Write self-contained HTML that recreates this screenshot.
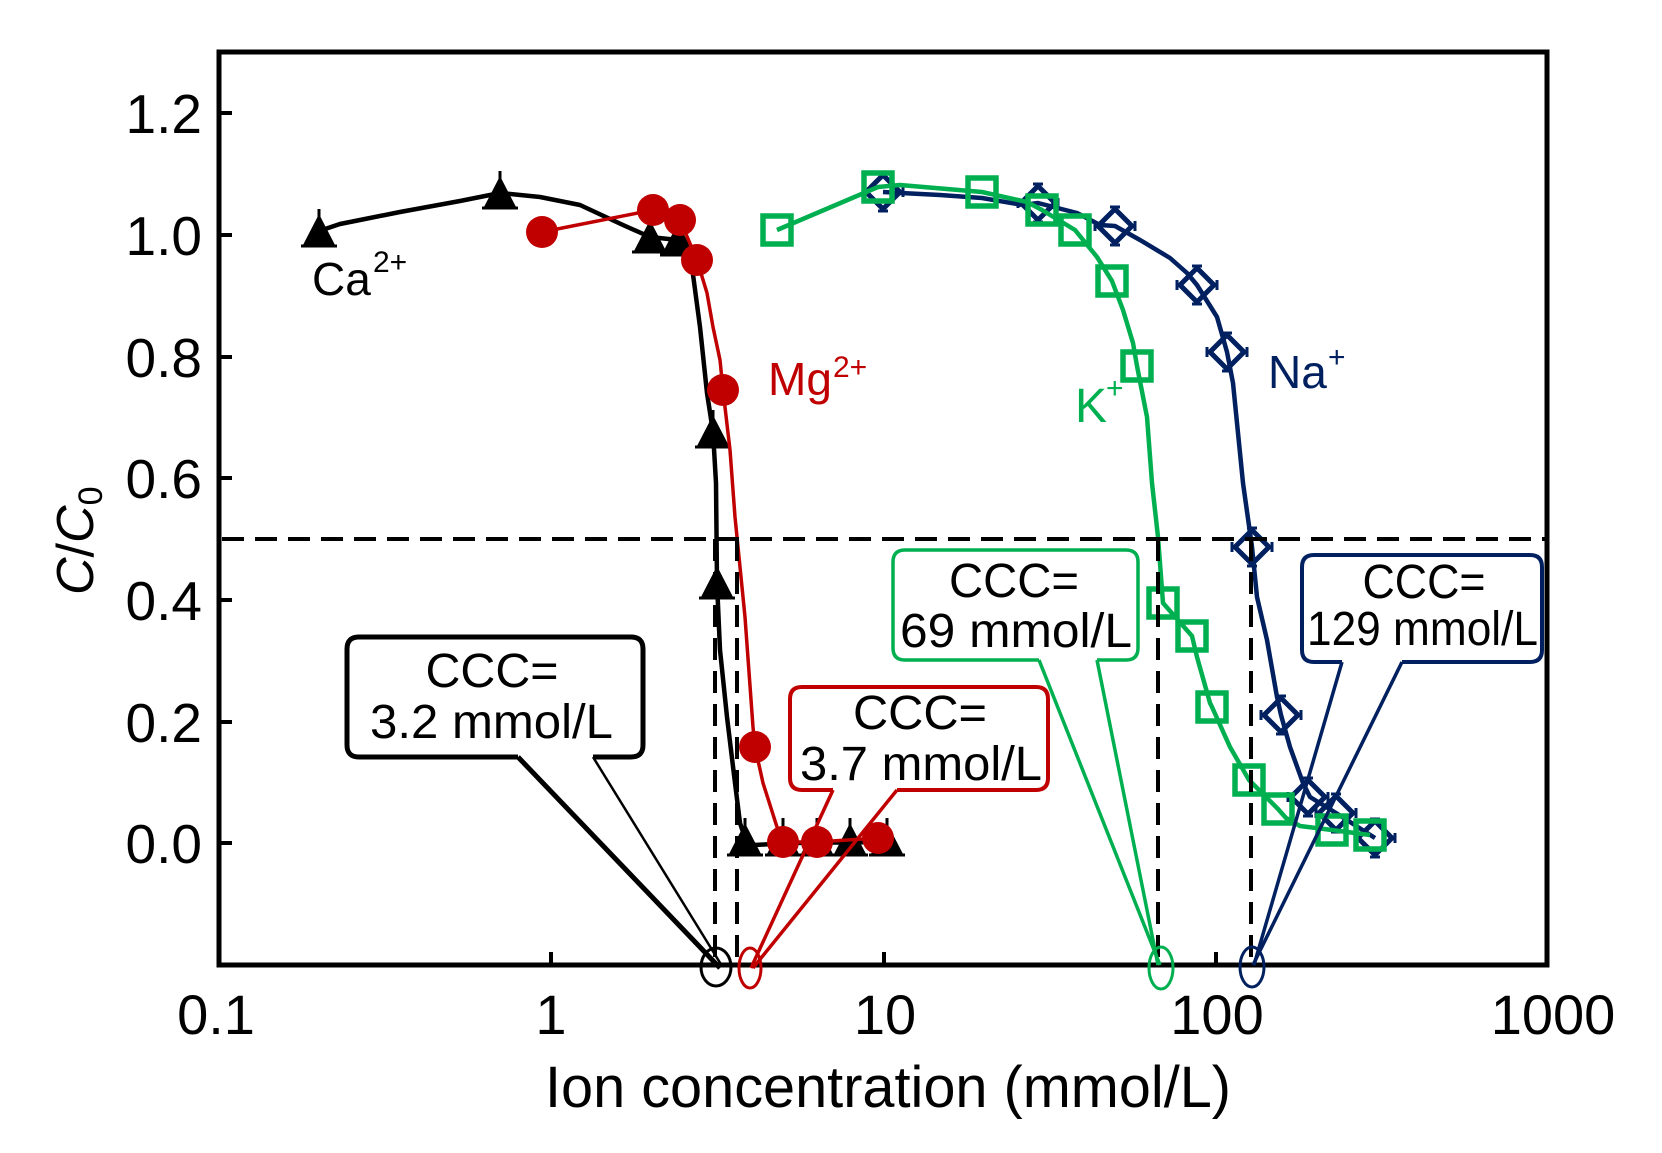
<!DOCTYPE html>
<html>
<head>
<meta charset="utf-8">
<style>
html,body{margin:0;padding:0;background:#fff;}
svg{display:block;}
</style>
</head>
<body>
<svg width="1662" height="1153" viewBox="0 0 1662 1153" xmlns="http://www.w3.org/2000/svg" font-family="'Liberation Sans', Arial, sans-serif">
<defs>
  <g id="tri">
    <path d="M0,-17 L16,14 L-16,14 Z" fill="#000"/>
    <path d="M-18,15 L18,15" stroke="#000" stroke-width="3"/>
    <path d="M0,-22 L0,-12" stroke="#000" stroke-width="3"/>
  </g>
  <g id="circ">
    <circle r="16" fill="#c00000"/>
  </g>
  <g id="sq">
    <rect x="-14" y="-14" width="28" height="28" fill="none" stroke="#00b050" stroke-width="5.5"/>
  </g>
  <g id="dia">
    <path d="M0,-17 L17,0 L0,17 L-17,0 Z" fill="none" stroke="#002060" stroke-width="5"/>
    <path d="M-5,-19 L5,-19 M-5,19 L5,19 M-20,-5 L-20,5 M20,-5 L20,5" stroke="#002060" stroke-width="3"/>
  </g>
</defs>

<rect x="0" y="0" width="1662" height="1153" fill="#fff"/>

<!-- axes box -->
<rect x="219" y="52" width="1328" height="913" fill="none" stroke="#000" stroke-width="5"/>

<!-- ticks -->
<g stroke="#000" stroke-width="4">
  <line x1="219" y1="113" x2="232" y2="113"/>
  <line x1="219" y1="235" x2="232" y2="235"/>
  <line x1="219" y1="357" x2="232" y2="357"/>
  <line x1="219" y1="478" x2="232" y2="478"/>
  <line x1="219" y1="600" x2="232" y2="600"/>
  <line x1="219" y1="722" x2="232" y2="722"/>
  <line x1="219" y1="843" x2="232" y2="843"/>
  <line x1="551" y1="965" x2="551" y2="952"/>
  <line x1="884" y1="965" x2="884" y2="952"/>
  <line x1="1216" y1="965" x2="1216" y2="952"/>
</g>

<!-- y tick labels -->
<g font-size="55" fill="#000" text-anchor="end">
  <text x="202" y="133">1.2</text>
  <text x="202" y="255">1.0</text>
  <text x="202" y="377">0.8</text>
  <text x="202" y="498">0.6</text>
  <text x="202" y="620">0.4</text>
  <text x="202" y="742">0.2</text>
  <text x="202" y="863">0.0</text>
</g>

<!-- x tick labels -->
<g font-size="56" fill="#000" text-anchor="middle">
  <text x="216" y="1034">0.1</text>
  <text x="551" y="1034">1</text>
  <text x="885" y="1034">10</text>
  <text x="1217" y="1034">100</text>
  <text x="1553" y="1034">1000</text>
</g>

<!-- axis labels -->
<text x="545" y="1107" font-size="58" textLength="686" lengthAdjust="spacingAndGlyphs" fill="#000">Ion concentration (mmol/L)</text>
<text transform="translate(93,595) rotate(-90)" font-size="52" fill="#000"><tspan font-style="italic">C</tspan>/<tspan font-style="italic">C</tspan><tspan font-size="34" dy="9">0</tspan></text>

<!-- Ca series -->
<polyline fill="none" stroke="#000" stroke-width="4.5" stroke-linejoin="round" points="319,231 340,224 360,220 400,212 460,201 500,193 540,197 580,205 623,225 650,237 678,240 690,252 700,327 707,393 713,432 716,483 717,583 720,650 727,717 735,783 740,823 745,838 755,845 790,843 887,842"/>
<use href="#tri" x="319" y="231"/>
<use href="#tri" x="500" y="193"/>
<use href="#tri" x="650" y="237"/>
<use href="#tri" x="678" y="240"/>
<use href="#tri" x="713" y="432"/>
<use href="#tri" x="717" y="583"/>
<use href="#tri" x="745" y="840"/>
<use href="#tri" x="783" y="840"/>
<use href="#tri" x="817" y="840"/>
<use href="#tri" x="850" y="840"/>
<use href="#tri" x="887" y="840"/>

<!-- Mg series -->
<polyline fill="none" stroke="#c00000" stroke-width="3.5" stroke-linejoin="round" points="542,232 653,210 680,220 697,260 707,293 713,327 720,360 723,390 730,450 735,517 745,617 753,727 755,747 763,783 777,827 783,842 817,842 878,838"/>
<use href="#circ" x="542" y="232"/>
<use href="#circ" x="653" y="210"/>
<use href="#circ" x="680" y="220"/>
<use href="#circ" x="697" y="260"/>
<use href="#circ" x="723" y="390"/>
<use href="#circ" x="755" y="747"/>
<use href="#circ" x="783" y="842"/>
<use href="#circ" x="817" y="842"/>
<use href="#circ" x="878" y="838"/>

<!-- Na series -->
<polyline fill="none" stroke="#002060" stroke-width="4.5" stroke-linejoin="round" points="883,192 940,195 982,198 1023,205 1038,203 1077,213 1100,225 1115,226 1140,240 1170,258 1187,273 1197,285 1217,317 1227,352 1233,383 1243,483 1252,547 1257,597 1267,640 1277,697 1281,715 1290,747 1303,783 1310,797 1336,813 1375,838"/>
<use href="#dia" x="883" y="192"/>
<use href="#dia" x="1038" y="203"/>
<use href="#dia" x="1115" y="226"/>
<use href="#dia" x="1197" y="285"/>
<use href="#dia" x="1227" y="352"/>
<use href="#dia" x="1252" y="547"/>
<use href="#dia" x="1281" y="715"/>
<use href="#dia" x="1308" y="797"/>
<use href="#dia" x="1336" y="813"/>
<use href="#dia" x="1375" y="838"/>

<!-- K series -->
<polyline fill="none" stroke="#00b050" stroke-width="4.5" stroke-linejoin="round" points="777,230 878,187 900,185 982,192 1027,202 1042,210 1075,230 1097,257 1112,281 1123,310 1133,343 1137,366 1147,417 1152,483 1158,537 1163,603 1192,636 1197,657 1210,703 1212,707 1230,747 1249,780 1278,809 1286,818 1300,826 1332,830 1370,835"/>
<use href="#sq" x="777" y="230"/>
<use href="#sq" x="878" y="187"/>
<use href="#sq" x="982" y="192"/>
<use href="#sq" x="1042" y="210"/>
<use href="#sq" x="1075" y="230"/>
<use href="#sq" x="1112" y="281"/>
<use href="#sq" x="1137" y="366"/>
<use href="#sq" x="1163" y="603"/>
<use href="#sq" x="1192" y="636"/>
<use href="#sq" x="1212" y="707"/>
<use href="#sq" x="1249" y="780"/>
<use href="#sq" x="1278" y="809"/>
<use href="#sq" x="1332" y="830"/>
<use href="#sq" x="1370" y="835"/>

<!-- dashed lines -->
<g stroke="#000" stroke-width="4" stroke-dasharray="22 11" fill="none">
  <line x1="222" y1="539" x2="1545" y2="539"/>
  <line x1="715" y1="539" x2="715" y2="958"/>
  <line x1="737" y1="539" x2="737" y2="958"/>
  <line x1="1158" y1="539" x2="1158" y2="958"/>
  <line x1="1251" y1="539" x2="1251" y2="958"/>
</g>

<!-- series labels -->
<text x="312" y="295" font-size="46" fill="#000">Ca</text>
<text x="373" y="272" font-size="30" fill="#000">2+</text>
<text x="768" y="395" font-size="46" fill="#c00000">Mg</text>
<text x="833" y="377" font-size="30" fill="#c00000">2+</text>
<text x="1075" y="422" font-size="48" fill="#00b050">K</text>
<text x="1106" y="398" font-size="30" fill="#00b050">+</text>
<text x="1268" y="388" font-size="46" fill="#002060">Na</text>
<text x="1328" y="367" font-size="30" fill="#002060">+</text>

<!-- bottom ellipses -->
<ellipse cx="716" cy="967" rx="15" ry="19" fill="none" stroke="#000" stroke-width="3"/>
<ellipse cx="750" cy="968" rx="11" ry="20" fill="none" stroke="#c00000" stroke-width="3"/>
<ellipse cx="1161" cy="968" rx="12" ry="21" fill="none" stroke="#00b050" stroke-width="3"/>
<ellipse cx="1252" cy="967" rx="12" ry="20" fill="none" stroke="#002060" stroke-width="3"/>

<!-- callout: Ca -->
<path d="M518,757 L359,757 Q347,757 347,745 L347,649 Q347,637 359,637 L631,637 Q643,637 643,649 L643,745 Q643,757 631,757 L593,757" fill="#fff" stroke="#000" stroke-width="5"/>
<line x1="518" y1="757" x2="720" y2="968" stroke="#000" stroke-width="5"/>
<line x1="593" y1="757" x2="722" y2="966" stroke="#000" stroke-width="2.5"/>
<text x="492" y="687" font-size="48" text-anchor="middle" textLength="133" lengthAdjust="spacingAndGlyphs">CCC=</text>
<text x="370" y="738" font-size="48" textLength="243" lengthAdjust="spacingAndGlyphs">3.2 mmol/L</text>

<!-- callout: Mg -->
<path d="M833,790 L802,790 Q790,790 790,778 L790,699 Q790,687 802,687 L1036,687 Q1048,687 1048,699 L1048,778 Q1048,790 1036,790 L897,790" fill="#fff" stroke="#c00000" stroke-width="4"/>
<line x1="833" y1="790" x2="751" y2="968" stroke="#c00000" stroke-width="3.5"/>
<line x1="897" y1="790" x2="753" y2="968" stroke="#c00000" stroke-width="3.5"/>
<text x="920" y="729" font-size="48" text-anchor="middle" textLength="134" lengthAdjust="spacingAndGlyphs">CCC=</text>
<text x="800" y="780" font-size="48" textLength="242" lengthAdjust="spacingAndGlyphs">3.7 mmol/L</text>

<!-- callout: K -->
<path d="M1039,660 L905,660 Q893,660 893,648 L893,562 Q893,550 905,550 L1126,550 Q1138,550 1138,562 L1138,648 Q1138,660 1126,660 L1097,660" fill="#fff" stroke="#00b050" stroke-width="3.5"/>
<line x1="1039" y1="660" x2="1160" y2="965" stroke="#00b050" stroke-width="3.5"/>
<line x1="1097" y1="660" x2="1158" y2="965" stroke="#00b050" stroke-width="3.5"/>
<text x="1014" y="597" font-size="48" text-anchor="middle" textLength="130" lengthAdjust="spacingAndGlyphs">CCC=</text>
<text x="900" y="647" font-size="48" textLength="232" lengthAdjust="spacingAndGlyphs">69 mmol/L</text>

<!-- callout: Na -->
<path d="M1342,662 L1314,662 Q1302,662 1302,650 L1302,567 Q1302,555 1314,555 L1530,555 Q1542,555 1542,567 L1542,650 Q1542,662 1530,662 L1402,662" fill="#fff" stroke="#002060" stroke-width="4"/>
<line x1="1342" y1="662" x2="1254" y2="965" stroke="#002060" stroke-width="3.5"/>
<line x1="1402" y1="662" x2="1253" y2="965" stroke="#002060" stroke-width="3.5"/>
<text x="1424" y="598" font-size="48" text-anchor="middle" textLength="123" lengthAdjust="spacingAndGlyphs">CCC=</text>
<text x="1307" y="645" font-size="48" textLength="231" lengthAdjust="spacingAndGlyphs">129 mmol/L</text>

</svg>
</body>
</html>
